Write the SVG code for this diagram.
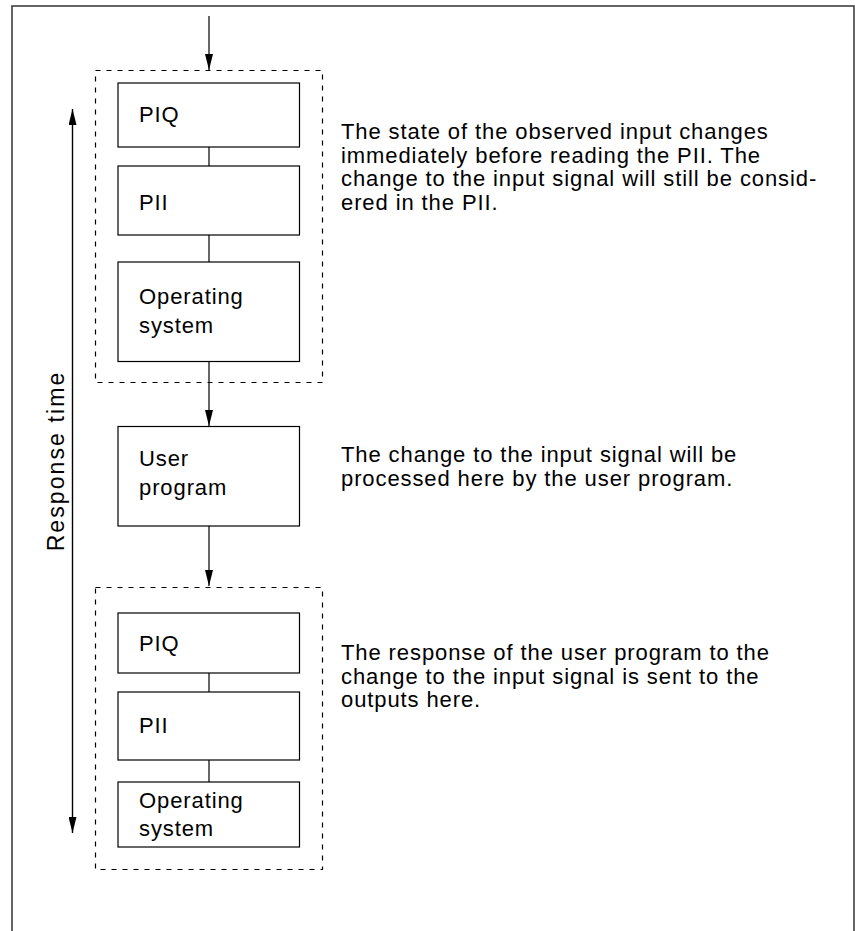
<svg xmlns="http://www.w3.org/2000/svg" width="855" height="931" viewBox="0 0 855 931">
<style>
.box{fill:#fff;stroke:#000;stroke-width:1.2}
.dash{fill:none;stroke:#000;stroke-width:1.2;stroke-dasharray:5 6}
.ln{stroke:#000;stroke-width:1.2;fill:none}
.t{font-family:"Liberation Sans",Arial,sans-serif;font-size:22px;letter-spacing:0.9px;fill:#000}
.rt{font-size:23px;letter-spacing:2.1px}
</style>
<defs>
<marker id="ah2" viewBox="0 0 16 8" refX="16" refY="4" markerWidth="16" markerHeight="8" markerUnits="userSpaceOnUse" orient="auto"><path d="M0,0 L16,4 L0,8 Z" fill="#000"/></marker>
</defs>
<path d="M12,931 L12,6 L854,6 L854,931" fill="none" stroke="#333" stroke-width="1.5"/>
<g id="group1"><rect class="dash" x="95.5" y="70.5" width="227" height="312"/></g>
<g id="group2"><rect class="dash" x="95.5" y="587.5" width="227" height="282"/></g>
<g id="connectors">
<line class="ln" x1="209" y1="16" x2="209" y2="70" marker-end="url(#ah2)"/>
<line class="ln" x1="209" y1="147" x2="209" y2="166"/>
<line class="ln" x1="209" y1="235" x2="209" y2="262"/>
<line class="ln" x1="209" y1="361" x2="209" y2="426" marker-end="url(#ah2)"/>
<line class="ln" x1="209" y1="526" x2="209" y2="586" marker-end="url(#ah2)"/>
<line class="ln" x1="209" y1="673" x2="209" y2="692"/>
<line class="ln" x1="209" y1="760" x2="209" y2="782"/>
<line class="ln" x1="72.5" y1="833" x2="72.5" y2="109" marker-end="url(#ah2)"/>
<line class="ln" x1="72.5" y1="109" x2="72.5" y2="833" marker-end="url(#ah2)"/>
</g>
<g id="piq1"><rect class="box" x="118" y="83" width="181.5" height="64"/><text class="t" x="139" y="122">PIQ</text></g>
<g id="pii1"><rect class="box" x="118" y="166" width="181.5" height="69"/><text class="t" x="139" y="210">PII</text></g>
<g id="os1"><rect class="box" x="118" y="262" width="181.5" height="99.5"/><text class="t" x="139" y="304">Operating</text><text class="t" x="139" y="333">system</text></g>
<g id="user"><rect class="box" x="118" y="426.5" width="181.5" height="99.5"/><text class="t" x="139" y="466">User</text><text class="t" x="139" y="495">program</text></g>
<g id="piq2"><rect class="box" x="118" y="613" width="181.5" height="60"/><text class="t" x="139" y="651">PIQ</text></g>
<g id="pii2"><rect class="box" x="118" y="692" width="181.5" height="68"/><text class="t" x="139" y="733">PII</text></g>
<g id="os2"><rect class="box" x="118" y="782" width="181.5" height="65"/><text class="t" x="139" y="808">Operating</text><text class="t" x="139" y="836">system</text></g>
<g id="labels">
<text class="t rt" transform="translate(64,461) rotate(-90)" text-anchor="middle">Response time</text>
<text class="t" x="341" y="139">The state of the observed input changes</text>
<text class="t" x="341" y="162.5">immediately before reading the PII. The</text>
<text class="t" x="341" y="186">change to the input signal will still be consid-</text>
<text class="t" x="341" y="209.5">ered in the PII.</text>
<text class="t" x="341" y="462">The change to the input signal will be</text>
<text class="t" x="341" y="486">processed here by the user program.</text>
<text class="t" x="341" y="660">The response of the user program to the</text>
<text class="t" x="341" y="683.5">change to the input signal is sent to the</text>
<text class="t" x="341" y="707">outputs here.</text>
</g>
</svg>
